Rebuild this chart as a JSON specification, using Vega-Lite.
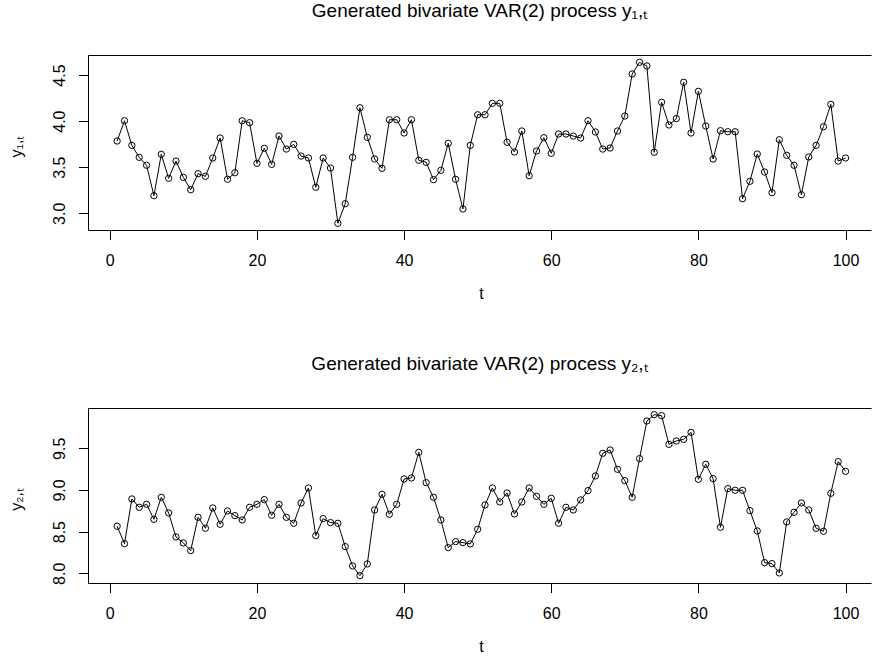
{
  "$schema": "https://vega.github.io/schema/vega-lite/v6.json",
  "autosize": {"type": "none"},
  "padding": {"left": 88, "top": 55, "right": 785, "bottom": 606},
  "background": "white",
  "bounds": "flush",
  "spacing": 178,
  "config": {
    "view": {"stroke": null},
    "font": "Liberation Sans",
    "axis": {
      "grid": false,
      "domainColor": "black",
      "domainWidth": 1,
      "tickColor": "black",
      "tickWidth": 1,
      "tickSize": 9.5,
      "labelFont": "Liberation Sans",
      "labelFontSize": 16,
      "labelColor": "black",
      "labelOverlap": false,
      "labelFlush": false,
      "titleFont": "Liberation Sans",
      "titleFontSize": 16,
      "titleFontWeight": "normal",
      "titleColor": "black"
    },
    "title": {
      "font": "Liberation Sans",
      "fontSize": 19,
      "fontWeight": "normal",
      "color": "black",
      "anchor": "middle",
      "frame": "group",
      "baseline": "alphabetic",
      "offset": 34
    }
  },
  "data": {
    "values": [
      {"t": 1, "y1": 3.784, "y2": 8.564},
      {"t": 2, "y1": 4.004, "y2": 8.356},
      {"t": 3, "y1": 3.737, "y2": 8.892},
      {"t": 4, "y1": 3.607, "y2": 8.792},
      {"t": 5, "y1": 3.521, "y2": 8.828},
      {"t": 6, "y1": 3.191, "y2": 8.648},
      {"t": 7, "y1": 3.640, "y2": 8.912},
      {"t": 8, "y1": 3.380, "y2": 8.724},
      {"t": 9, "y1": 3.567, "y2": 8.436},
      {"t": 10, "y1": 3.390, "y2": 8.364},
      {"t": 11, "y1": 3.256, "y2": 8.272},
      {"t": 12, "y1": 3.430, "y2": 8.672},
      {"t": 13, "y1": 3.401, "y2": 8.540},
      {"t": 14, "y1": 3.600, "y2": 8.784},
      {"t": 15, "y1": 3.817, "y2": 8.588},
      {"t": 16, "y1": 3.369, "y2": 8.748},
      {"t": 17, "y1": 3.440, "y2": 8.692},
      {"t": 18, "y1": 4.004, "y2": 8.640},
      {"t": 19, "y1": 3.983, "y2": 8.792},
      {"t": 20, "y1": 3.542, "y2": 8.828},
      {"t": 21, "y1": 3.705, "y2": 8.884},
      {"t": 22, "y1": 3.531, "y2": 8.696},
      {"t": 23, "y1": 3.838, "y2": 8.828},
      {"t": 24, "y1": 3.697, "y2": 8.672},
      {"t": 25, "y1": 3.748, "y2": 8.600},
      {"t": 26, "y1": 3.621, "y2": 8.844},
      {"t": 27, "y1": 3.600, "y2": 9.024},
      {"t": 28, "y1": 3.282, "y2": 8.452},
      {"t": 29, "y1": 3.600, "y2": 8.656},
      {"t": 30, "y1": 3.491, "y2": 8.608},
      {"t": 31, "y1": 2.892, "y2": 8.600},
      {"t": 32, "y1": 3.104, "y2": 8.320},
      {"t": 33, "y1": 3.607, "y2": 8.088},
      {"t": 34, "y1": 4.145, "y2": 7.971},
      {"t": 35, "y1": 3.824, "y2": 8.112},
      {"t": 36, "y1": 3.589, "y2": 8.760},
      {"t": 37, "y1": 3.488, "y2": 8.948},
      {"t": 38, "y1": 4.015, "y2": 8.708},
      {"t": 39, "y1": 4.015, "y2": 8.828},
      {"t": 40, "y1": 3.871, "y2": 9.132},
      {"t": 41, "y1": 4.015, "y2": 9.144},
      {"t": 42, "y1": 3.575, "y2": 9.452},
      {"t": 43, "y1": 3.553, "y2": 9.088},
      {"t": 44, "y1": 3.365, "y2": 8.912},
      {"t": 45, "y1": 3.466, "y2": 8.640},
      {"t": 46, "y1": 3.759, "y2": 8.308},
      {"t": 47, "y1": 3.369, "y2": 8.380},
      {"t": 48, "y1": 3.047, "y2": 8.368},
      {"t": 49, "y1": 3.737, "y2": 8.352},
      {"t": 50, "y1": 4.069, "y2": 8.528},
      {"t": 51, "y1": 4.069, "y2": 8.820},
      {"t": 52, "y1": 4.193, "y2": 9.024},
      {"t": 53, "y1": 4.193, "y2": 8.856},
      {"t": 54, "y1": 3.770, "y2": 8.964},
      {"t": 55, "y1": 3.665, "y2": 8.712},
      {"t": 56, "y1": 3.893, "y2": 8.856},
      {"t": 57, "y1": 3.408, "y2": 9.024},
      {"t": 58, "y1": 3.676, "y2": 8.924},
      {"t": 59, "y1": 3.820, "y2": 8.828},
      {"t": 60, "y1": 3.651, "y2": 8.900},
      {"t": 61, "y1": 3.860, "y2": 8.600},
      {"t": 62, "y1": 3.860, "y2": 8.792},
      {"t": 63, "y1": 3.838, "y2": 8.760},
      {"t": 64, "y1": 3.817, "y2": 8.880},
      {"t": 65, "y1": 4.004, "y2": 8.992},
      {"t": 66, "y1": 3.882, "y2": 9.168},
      {"t": 67, "y1": 3.697, "y2": 9.440},
      {"t": 68, "y1": 3.708, "y2": 9.480},
      {"t": 69, "y1": 3.893, "y2": 9.248},
      {"t": 70, "y1": 4.055, "y2": 9.112},
      {"t": 71, "y1": 4.511, "y2": 8.912},
      {"t": 72, "y1": 4.638, "y2": 9.376},
      {"t": 73, "y1": 4.598, "y2": 9.828},
      {"t": 74, "y1": 3.662, "y2": 9.904},
      {"t": 75, "y1": 4.204, "y2": 9.892},
      {"t": 76, "y1": 3.958, "y2": 9.548},
      {"t": 77, "y1": 4.027, "y2": 9.588},
      {"t": 78, "y1": 4.421, "y2": 9.608},
      {"t": 79, "y1": 3.871, "y2": 9.692},
      {"t": 80, "y1": 4.323, "y2": 9.128},
      {"t": 81, "y1": 3.947, "y2": 9.308},
      {"t": 82, "y1": 3.589, "y2": 9.136},
      {"t": 83, "y1": 3.896, "y2": 8.552},
      {"t": 84, "y1": 3.885, "y2": 9.016},
      {"t": 85, "y1": 3.885, "y2": 8.996},
      {"t": 86, "y1": 3.158, "y2": 8.996},
      {"t": 87, "y1": 3.347, "y2": 8.752},
      {"t": 88, "y1": 3.643, "y2": 8.508},
      {"t": 89, "y1": 3.448, "y2": 8.128},
      {"t": 90, "y1": 3.224, "y2": 8.116},
      {"t": 91, "y1": 3.798, "y2": 8.004},
      {"t": 92, "y1": 3.629, "y2": 8.616},
      {"t": 93, "y1": 3.521, "y2": 8.732},
      {"t": 94, "y1": 3.202, "y2": 8.844},
      {"t": 95, "y1": 3.611, "y2": 8.760},
      {"t": 96, "y1": 3.737, "y2": 8.540},
      {"t": 97, "y1": 3.939, "y2": 8.504},
      {"t": 98, "y1": 4.182, "y2": 8.960},
      {"t": 99, "y1": 3.567, "y2": 9.340},
      {"t": 100, "y1": 3.600, "y2": 9.224}
    ]
  },
  "vconcat": [
    {
      "width": 783,
      "height": 175,
      "title": {"text": "Generated bivariate VAR(2) process y₁,ₜ"},
      "encoding": {
        "y": {
          "field": "y1",
          "type": "quantitative",
          "scale": {"domain": [2.819, 4.717], "nice": false, "zero": false},
          "axis": {
            "values": [3, 3.5, 4, 4.5],
            "format": ".1f",
            "labelAngle": -90,
            "labelAlign": "center",
            "labelBaseline": "alphabetic",
            "labelPadding": 14,
            "title": "y₁,ₜ",
            "titleAngle": -90,
            "titleAlign": "center",
            "titleBaseline": "alphabetic",
            "titleX": -67,
            "titleY": 91
          }
        }
      },
      "resolve": {"axis": {"x": "independent"}},
      "layer": [
        {
          "mark": {"type": "line", "color": "black", "strokeWidth": 1},
          "encoding": {
            "x": {
              "field": "t",
              "type": "quantitative",
              "scale": {"domain": [-2.96, 103.46], "nice": false, "zero": false},
              "axis": {
                "values": [0, 20, 40, 60, 80, 100],
                "labelBaseline": "alphabetic",
                "labelPadding": 25.5,
                "title": "t",
                "titleBaseline": "alphabetic",
                "titleX": 393,
                "titleY": 68
              }
            }
          }
        },
        {
          "mark": {"type": "point", "shape": "circle", "filled": false, "color": "black", "size": 40, "strokeWidth": 1, "opacity": 1},
          "encoding": {
            "x": {
              "field": "t",
              "type": "quantitative",
              "axis": {"orient": "top", "labels": false, "ticks": false, "title": null, "domain": true}
            }
          }
        }
      ]
    },
    {
      "width": 783,
      "height": 175,
      "title": {"text": "Generated bivariate VAR(2) process y₂,ₜ"},
      "encoding": {
        "y": {
          "field": "y2",
          "type": "quantitative",
          "scale": {"domain": [7.883, 9.984], "nice": false, "zero": false},
          "axis": {
            "values": [8, 8.5, 9, 9.5],
            "format": ".1f",
            "labelAngle": -90,
            "labelAlign": "center",
            "labelBaseline": "alphabetic",
            "labelPadding": 14,
            "title": "y₂,ₜ",
            "titleAngle": -90,
            "titleAlign": "center",
            "titleBaseline": "alphabetic",
            "titleX": -67,
            "titleY": 91
          }
        }
      },
      "resolve": {"axis": {"x": "independent"}},
      "layer": [
        {
          "mark": {"type": "line", "color": "black", "strokeWidth": 1},
          "encoding": {
            "x": {
              "field": "t",
              "type": "quantitative",
              "scale": {"domain": [-2.96, 103.46], "nice": false, "zero": false},
              "axis": {
                "values": [0, 20, 40, 60, 80, 100],
                "labelBaseline": "alphabetic",
                "labelPadding": 25.5,
                "title": "t",
                "titleBaseline": "alphabetic",
                "titleX": 393,
                "titleY": 68
              }
            }
          }
        },
        {
          "mark": {"type": "point", "shape": "circle", "filled": false, "color": "black", "size": 40, "strokeWidth": 1, "opacity": 1},
          "encoding": {
            "x": {
              "field": "t",
              "type": "quantitative",
              "axis": {"orient": "top", "labels": false, "ticks": false, "title": null, "domain": true}
            }
          }
        }
      ]
    }
  ]
}
